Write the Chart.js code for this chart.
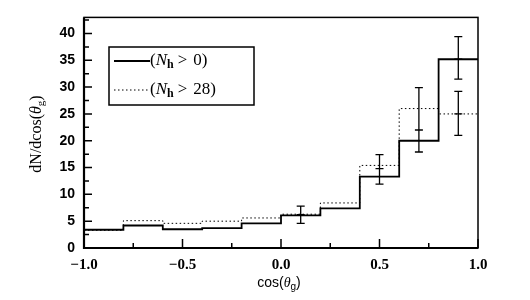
<!DOCTYPE html>
<html>
<head>
<meta charset="utf-8">
<script src="https://cdn.jsdelivr.net/npm/chart.js@4"></script>
<style>
  html, body { margin: 0; padding: 0; background: #fff; }
</style>
</head>
<body>
<canvas id="chartCos" width="530" height="300"></canvas>
<script>
// histogram bins in cos(theta_g)
const binEdges = [-1.0, -0.8, -0.6, -0.4, -0.2, 0.0, 0.2, 0.4, 0.6, 0.8, 1.0];
const allHits = [3.4, 4.2, 3.5, 3.7, 4.6, 6.1, 7.4, 13.3, 20.0, 35.2];   // N_h > 0
const highHits = [3.3, 5.1, 4.6, 5.0, 5.6, 6.3, 8.4, 15.4, 26.0, 25.0]; // N_h > 28

// error bars
const errX = [0.1, 0.5, 0.7, 0.9, 0.9];
const errMid = [6.2, 14.8, 22.0, 35.2, 25.0];
const errLo = [4.6, 11.9, 17.9, 31.5, 21.0];
const errHi = [7.8, 17.4, 29.9, 39.4, 29.2];

const xTicks = [-1.0, -0.5, 0.0, 0.5, 1.0];
const yTicks = [0, 5, 10, 15, 20, 25, 30, 35, 40];
const legendLabels = ['0', '28'];

function stepPoints(vals) {
    const pts = vals.map((v, i) => ({ x: binEdges[i], y: v }));
    pts.push({ x: binEdges[binEdges.length - 1], y: vals[vals.length - 1] });
    return pts;
}

// draws frame, inward ticks, error bars, legend and axis titles
const extras = {
    id: 'extras',
    afterDatasetsDraw(chart) {
        const ctx = chart.ctx;
        const a = chart.chartArea;
        const xs = chart.scales.x, ys = chart.scales.y;
        ctx.save();
        ctx.strokeStyle = '#000';
        ctx.fillStyle = '#000';

        // frame
        ctx.lineWidth = 1.5;
        ctx.strokeRect(a.left, a.top, a.right - a.left, a.bottom - a.top);
        ctx.lineWidth = 2.2;
        ctx.beginPath();
        ctx.moveTo(a.left, a.top); ctx.lineTo(a.left, a.bottom); ctx.lineTo(a.right, a.bottom);
        ctx.stroke();

        // ticks
        ctx.lineWidth = 1.5;
        ctx.beginPath();
        yTicks.forEach((v, i) => {
            const p = ys.getPixelForValue(v);
            ctx.moveTo(a.left, p); ctx.lineTo(a.left + 8, p);
            const m = ys.getPixelForValue(v + 2.5);
            if (m > a.top) { ctx.moveTo(a.left, m); ctx.lineTo(a.left + 5, m); }
        });
        xTicks.forEach((v, i) => {
            const p = xs.getPixelForValue(v);
            ctx.moveTo(p, a.bottom); ctx.lineTo(p, a.bottom - 9);
            if (i < xTicks.length - 1) {
                const m = xs.getPixelForValue(v + 0.25);
                ctx.moveTo(m, a.bottom); ctx.lineTo(m, a.bottom - 5);
            }
        });
        ctx.stroke();

        // error bars
        ctx.lineWidth = 1.3;
        errX.forEach((x, i) => {
            const px = xs.getPixelForValue(x);
            const hi = ys.getPixelForValue(errHi[i]);
            const lo = ys.getPixelForValue(errLo[i]);
            const mid = ys.getPixelForValue(errMid[i]);
            ctx.beginPath();
            ctx.moveTo(px, hi); ctx.lineTo(px, lo);
            ctx.moveTo(px - 4, hi); ctx.lineTo(px + 4, hi);
            ctx.moveTo(px - 4, lo); ctx.lineTo(px + 4, lo);
            ctx.moveTo(px - 4, mid); ctx.lineTo(px + 4, mid);
            ctx.stroke();
        });

        // legend box
        const bx = 109, by = 47, bw = 145, bh = 58;
        ctx.lineWidth = 1.5;
        ctx.strokeRect(bx, by, bw, bh);
        const rows = [
            { y: by + 14, dash: [] , w: 1.8},
            { y: by + 43, dash: [1.5, 2.5], w: 1 }
        ];
        rows.forEach((r, i) => {
            ctx.beginPath();
            ctx.setLineDash(r.dash);
            ctx.lineWidth = r.w;
            ctx.moveTo(bx + 5, r.y); ctx.lineTo(bx + 41, r.y);
            ctx.stroke();
            ctx.setLineDash([]);
            let tx = bx + 41;
            ctx.textBaseline = 'middle';
            ctx.textAlign = 'left';
            ctx.font = '17px "Liberation Serif"';
            ctx.fillText('(', tx, r.y); tx += ctx.measureText('(').width;
            ctx.font = 'italic 17px "Liberation Serif"';
            ctx.fillText('N', tx, r.y); tx += ctx.measureText('N').width;
            ctx.font = 'bold 12px "Liberation Serif"';
            ctx.fillText('h', tx, r.y + 4); tx += ctx.measureText('h').width + 4;
            ctx.font = '17px "Liberation Serif"';
            ctx.fillText('>', tx, r.y); tx += ctx.measureText('>').width + 6;
            ctx.fillText(legendLabels[i] + ')', tx, r.y);
        });

        // x title
        ctx.textBaseline = 'middle';
        ctx.font = '14px "Liberation Sans"';
        const p1 = 'cos(', p2 = 'θ', p3 = ')';
        const w1 = ctx.measureText(p1).width;
        ctx.font = 'italic 14px "Liberation Serif"';
        const w2 = ctx.measureText(p2).width;
        ctx.font = '10px "Liberation Sans"';
        const w3 = ctx.measureText('g').width;
        ctx.font = '14px "Liberation Sans"';
        const w4 = ctx.measureText(p3).width;
        let tx = 279 - (w1 + w2 + w3 + w4) / 2;
        const ty = 283;
        ctx.textAlign = 'left';
        ctx.fillText(p1, tx, ty); tx += w1;
        ctx.font = 'italic 14px "Liberation Serif"';
        ctx.fillText(p2, tx, ty); tx += w2;
        ctx.font = '10px "Liberation Sans"';
        ctx.fillText('g', tx, ty + 4); tx += w3;
        ctx.font = '14px "Liberation Sans"';
        ctx.fillText(p3, tx, ty);

        // y title
        ctx.translate(37, 134);
        ctx.rotate(-Math.PI / 2);
        ctx.font = '16px "Liberation Serif"';
        const q1 = 'dN/dcos(';
        const v1 = ctx.measureText(q1).width;
        ctx.font = 'italic 16px "Liberation Serif"';
        const v2 = ctx.measureText('θ').width;
        ctx.font = '11px "Liberation Serif"';
        const v3 = ctx.measureText('g').width;
        ctx.font = '16px "Liberation Serif"';
        const v4 = ctx.measureText(')').width;
        let qx = -(v1 + v2 + v3 + v4) / 2;
        ctx.fillText(q1, qx, 0); qx += v1;
        ctx.font = 'italic 16px "Liberation Serif"';
        ctx.fillText('θ', qx, 0); qx += v2;
        ctx.font = '11px "Liberation Serif"';
        ctx.fillText('g', qx, 4); qx += v3;
        ctx.font = '16px "Liberation Serif"';
        ctx.fillText(')', qx, 0);

        ctx.restore();
    }
};

const ctx = document.getElementById('chartCos').getContext('2d');
new Chart(ctx, {
    type: 'line',
    data: {
        datasets: [
            {
                label: '(Nh > 0)',
                data: stepPoints(allHits),
                stepped: true,
                borderColor: '#000',
                borderWidth: 1.8,
                pointRadius: 0,
                fill: false,
            },
            {
                label: '(Nh > 28)',
                data: stepPoints(highHits),
                stepped: true,
                borderColor: '#000',
                borderWidth: 1,
                borderDash: [1.5, 2.5],
                pointRadius: 0,
                fill: false,
            },
        ],
    },
    options: {
        responsive: false,
        animation: false,
        layout: { padding: { left: 0, right: 52, top: 15, bottom: 0 } },
        plugins: { legend: { display: false }, tooltip: { enabled: false } },
        scales: {
            x: {
                type: 'linear',
                min: -1, max: 1,
                grid: { display: false, drawTicks: false },
                border: { display: false },
                afterBuildTicks: s => { s.ticks = xTicks.map(v => ({ value: v })); },
                afterFit: s => { s.height = 52; },
                ticks: {
                    padding: 8,
                    color: '#000',
                    font: { family: 'Liberation Serif', size: 15, weight: 'bold' },
                    callback: v => (v < 0 ? '\u2212' : '') + Math.abs(v).toFixed(1),
                },
            },
            y: {
                min: 0, max: 43,
                grid: { display: false, drawTicks: false },
                border: { display: false },
                afterBuildTicks: s => { s.ticks = yTicks.map(v => ({ value: v })); },
                afterFit: s => { s.width = 84; },
                ticks: {
                    padding: 9,
                    color: '#000',
                    font: { family: 'Liberation Sans', size: 14, weight: 'bold' },
                },
            },
        },
    },
    plugins: [extras],
});
</script>
</body>
</html>
